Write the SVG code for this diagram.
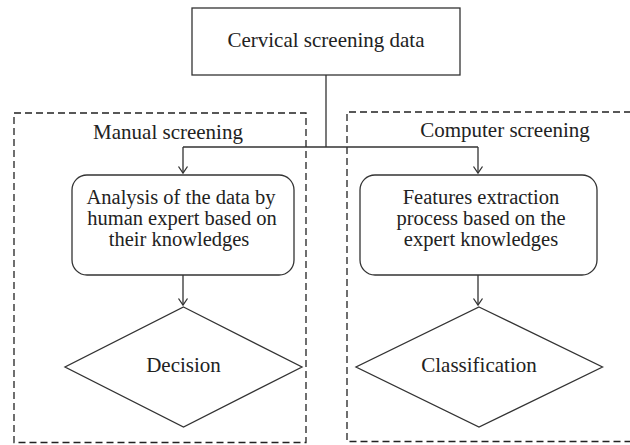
<svg xmlns="http://www.w3.org/2000/svg" width="630" height="445" viewBox="0 0 630 445">
<style>
.box{fill:#fff;stroke:#333;stroke-width:1.3}
.dash{fill:none;stroke:#222;stroke-width:1.3;stroke-dasharray:7 4}
.ln{fill:none;stroke:#333;stroke-width:1.3}
text{font-family:"Liberation Serif","Times New Roman",serif;font-size:21px;fill:#222;text-anchor:middle}
.ml{font-size:20.5px}
</style>
<rect width="630" height="445" fill="#fff"/>
<g id="manual-group">
<rect class="dash" x="14" y="113" width="292" height="329.5"/>
<text x="168" y="139">Manual screening</text>
</g>
<g id="computer-group">
<path class="dash" d="M631 112 H347 V441.5 H631"/>
<text x="505" y="137">Computer screening</text>
</g>
<g id="connectors">
<path class="ln" d="M326 75 V147 M183 147 H478 M183 147 V173 M478 147 V173"/>
<polyline class="ln" points="178.5,166.5 183,173 187.5,166.5"/>
<polyline class="ln" points="473.5,166.5 478,173 482.5,166.5"/>
<path class="ln" d="M183 275 V305 M478 275 V305"/>
<polyline class="ln" points="178.5,298.5 183,305 187.5,298.5"/>
<polyline class="ln" points="473.5,298.5 478,305 482.5,298.5"/>
</g>
<g id="data">
<rect class="box" x="192" y="8" width="268" height="67"/>
<text x="326" y="47">Cervical screening data</text>
</g>
<g id="analysis">
<rect class="box" x="72" y="175" width="222" height="100" rx="15"/>
<text class="ml" x="181" y="204">Analysis of the data by</text>
<text class="ml" x="182" y="225">human expert based on</text>
<text class="ml" x="179" y="246">their knowledges</text>
</g>
<g id="features">
<rect class="box" x="360" y="175" width="237" height="100" rx="15"/>
<text class="ml" x="481" y="204">Features extraction</text>
<text class="ml" x="481" y="225">process based on the</text>
<text class="ml" x="481" y="246">expert knowledges</text>
</g>
<g id="decision">
<polygon class="box" points="183.5,307 302,367 183.5,427 65,367"/>
<text x="183.5" y="371.5">Decision</text>
</g>
<g id="classification">
<polygon class="box" points="479,307 602.5,367 479,427 356,367"/>
<text x="479" y="371.5">Classification</text>
</g>
</svg>
